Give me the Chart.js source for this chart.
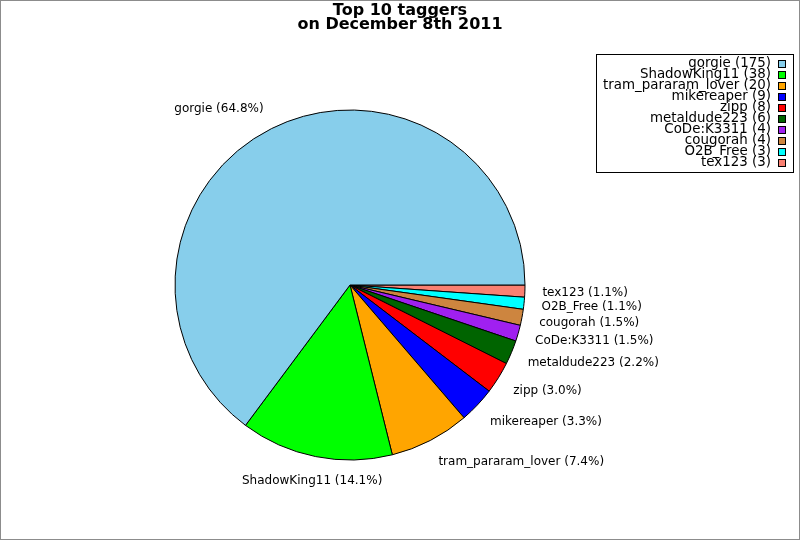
<!DOCTYPE html>
<html>
<head>
<meta charset="utf-8">
<script src="https://cdn.jsdelivr.net/npm/chart.js@4"></script>
<style>
  html, body { margin: 0; padding: 0; background: #fff; }
  canvas { display: block; }
</style>
</head>
<body>
<canvas id="grafico" width="800" height="540"></canvas>
<script>
const taggers = ["gorgie", "ShadowKing11", "tram_pararam_lover", "mikereaper", "zipp",
  "metaldude223", "CoDe:K3311", "cougorah", "O2B_Free", "tex123"];
const tags = [175, 38, 20, 9, 8, 6, 4, 4, 3, 3];
const cores = ["#87ceeb", "#00ff00", "#ffa500", "#0000ff", "#ff0000",
  "#006400", "#a020f0", "#cd853f", "#00ffff", "#fa8072"];
const titulo = ["Top 10 taggers", "on December 8th 2011"];

const total = tags.reduce((a, b) => a + b, 0);

// slices go counter-clockwise from 3 o'clock, chart.js goes clockwise -> reverse
const labelsRev = taggers.slice().reverse();
const tagsRev = tags.slice().reverse();
const coresRev = cores.slice().reverse();

const fundoPlugin = {
  id: "fundo",
  beforeDraw(chart) {
    const ctx = chart.ctx;
    ctx.save();
    ctx.fillStyle = "#fff";
    ctx.fillRect(0, 0, chart.width, chart.height);
    ctx.restore();
  },
  afterDraw(chart) {
    const ctx = chart.ctx;
    ctx.save();
    ctx.strokeStyle = "#8c8c8c";
    ctx.lineWidth = 2;
    ctx.strokeRect(0, 0, chart.width, chart.height);
    // title
    ctx.fillStyle = "#000";
    ctx.font = "bold 16px 'DejaVu Sans'";
    ctx.textAlign = "center";
    ctx.textBaseline = "alphabetic";
    ctx.fillText(titulo[0], 400, 15);
    ctx.fillText(titulo[1], 400, 29);
    ctx.restore();
  }
};

const rotulosPlugin = {
  id: "rotulos",
  afterDatasetsDraw(chart) {
    const ctx = chart.ctx;
    const meta = chart.getDatasetMeta(0);
    ctx.save();
    ctx.font = "12px 'DejaVu Sans'";
    ctx.fillStyle = "#000";
    meta.data.forEach((arc, i) => {
      const p = arc.getProps(["x", "y", "startAngle", "endAngle", "outerRadius"], true);
      const mid = (p.startAngle + p.endAngle) / 2;
      const r = p.outerRadius * 1.1;
      const c = Math.cos(mid), s = Math.sin(mid);
      const x = p.x + r * c;
      const y = p.y + r * s + 6 * s + 1;
      ctx.textAlign = Math.abs(c) < 0.25 ? "center" : (c > 0 ? "left" : "right");
      ctx.textBaseline = "middle";
      const pct = (tagsRev[i] / total * 100).toFixed(1);
      ctx.fillText(labelsRev[i] + " (" + pct + "%)", x, y);
    });
    ctx.restore();
  }
};

const legendaPlugin = {
  id: "legenda",
  afterDraw(chart) {
    const ctx = chart.ctx;
    ctx.save();
    ctx.lineWidth = 1;
    ctx.strokeStyle = "#000";
    ctx.strokeRect(596.5, 54.5, 197, 118);
    ctx.font = "13.4px 'DejaVu Sans'";
    ctx.textAlign = "right";
    ctx.textBaseline = "middle";
    taggers.forEach((nome, i) => {
      const y = 64 + i * 11;
      ctx.fillStyle = "#000";
      ctx.fillText(nome + " (" + tags[i] + ")", 771, y);
      ctx.fillStyle = cores[i];
      ctx.fillRect(778.5, y - 3.5, 7, 7);
      ctx.strokeRect(778.5, y - 3.5, 7, 7);
    });
    ctx.restore();
  }
};

new Chart(document.getElementById("grafico").getContext("2d"), {
  type: "pie",
  data: {
    labels: labelsRev,
    datasets: [{
      data: tagsRev,
      backgroundColor: coresRev,
      borderColor: "#000",
      borderWidth: 1,
      radius: 175
    }]
  },
  options: {
    responsive: false,
    animation: false,
    rotation: 90,
    layout: { padding: { left: 175, right: 275, top: 110, bottom: 80 } },
    plugins: {
      legend: { display: false },
      title: { display: false },
      tooltip: { enabled: false }
    }
  },
  plugins: [fundoPlugin, rotulosPlugin, legendaPlugin]
});
</script>
</body>
</html>
